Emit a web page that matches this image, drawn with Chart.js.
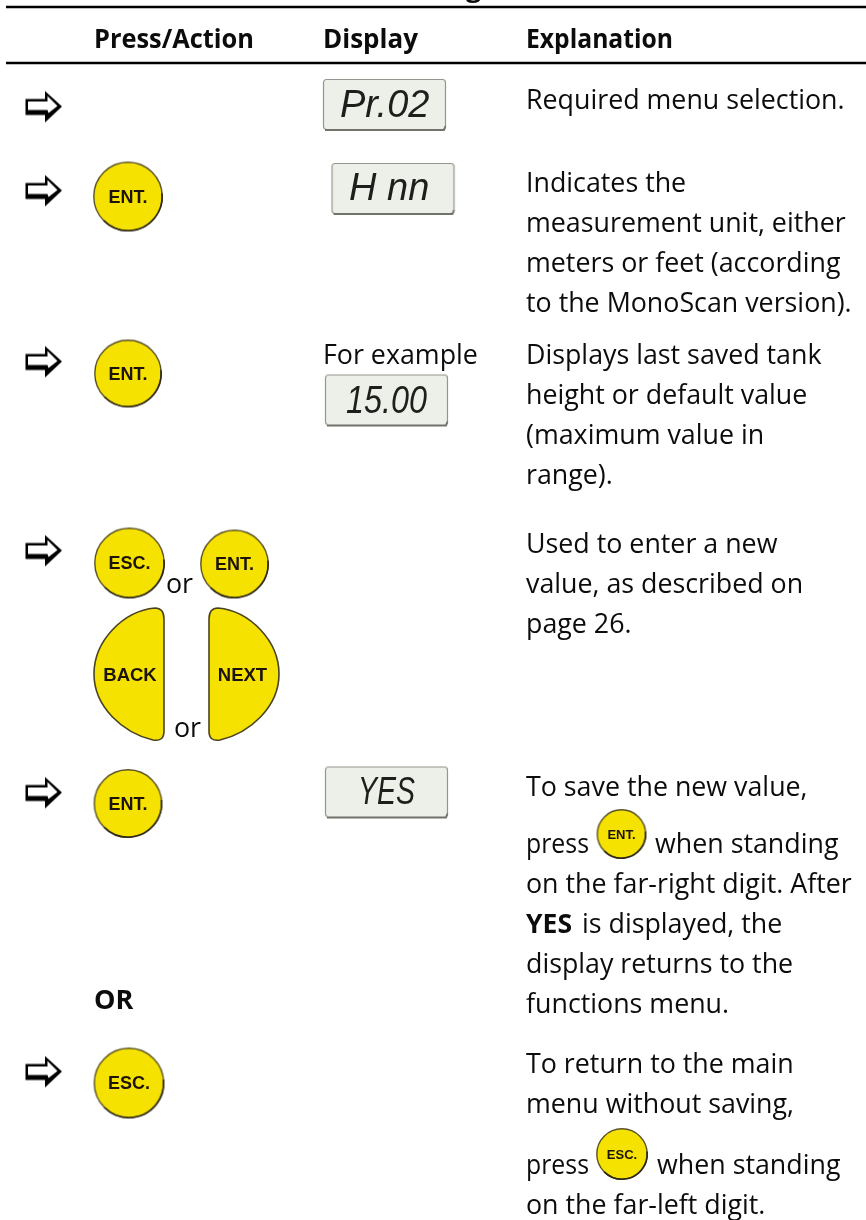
<!DOCTYPE html><html><head><meta charset="utf-8"><style>html,body{margin:0;padding:0;background:#fff}canvas{display:block}</style><script src="https://cdn.jsdelivr.net/npm/chart.js@4"></script></head><body><div style="width:866px;height:1220px;position:relative"><canvas id="c"></canvas></div><script>
// ---- table content (page-pixel value scale) ----
const ruleYs=[7,63];
const ruleX=[6,866];
const arrowX=[44,44,44,44,44,44];
const arrowY=[106.5,190.5,361.5,550.5,792.5,1071.5];
const roundKinds=['ENT.','ENT.','ESC.','ENT.','ENT.','ESC.','ENT.','ESC.'];
const roundX=[128,128,129.5,234.5,128,129,621.5,622];
const roundY=[196.5,373.5,563,564,803.5,1083,834,1154];
const roundD=[70,68,71,69,69,71,50,52];
const halfKinds=['BACK','NEXT'];
const halfX=[129,244];
const halfY=[674,674];
const lcdTexts=['Pr.02','H nn','15.00','YES'];
const lcdX=[384.5,393,386.5,386.5];
const lcdY=[105,189,400.5,792.5];
const lcdTextX=[340,349,346,358];
const lcdBase=[117,200,413,804];
const lcdTextW=[91,82,81,57];
const titleFragment='g';
const titleX=466;
const titleBase=-3.5;
const headerTexts=['Press/Action','Display','Explanation'];
const headerX=[94,323,526];
const headerW=[160,95,147];
const headerBase=[48,48,48];
const boldTexts=['OR','YES'];
const boldX=[94,526];
const boldBase=[1009,933];
const bodyTexts=['For example','or','or','Required menu selection.','Indicates the','measurement unit, either','meters or feet (according','to the MonoScan version).','Displays last saved tank','height or default value','(maximum value in','range).','Used to enter a new','value, as described on','page 26.','To save the new value,','when standing','on the far-right digit. After','is displayed, the','display returns to the','functions menu.','To return to the main','menu without saving,','when standing','on the far-left digit.'];
const bodyX=[323,166,174,526,526,526,526,526,526,526,526,526,526,526,526,526,655,526,582,526,526,526,526,657,526];
const bodyBase=[364,593,737,109,192,232,272,312,364,404,444,484,553,593,633,796,853,893,933,973,1013,1073,1113,1174,1214];
const pressText='press';
const pressX=[526,526];
const pressBase=[853,1174];

// ---- mark artwork used as point styles ----
function mk(w,h,draw){const c=document.createElement('canvas');c.width=w;c.height=h;draw(c.getContext('2d'),w,h);return c;}
const arrowImg=mk(40,34,(g)=>{
  const p=[[1.5,9.5],[21,9.5],[21,1.5],[38,17],[21,33],[21,25.5],[1.5,25.5]];
  const path=(pts)=>{g.beginPath();pts.forEach((q,i)=>i?g.lineTo(q[0],q[1]):g.moveTo(q[0],q[1]));g.closePath();};
  g.fillStyle='#000';path(p);g.fill();
  g.fillStyle='#fff';path([[4,12],[23.5,12],[23.5,6.5],[33.5,16.5],[24.5,23.5],[23.5,20.5],[4,20.5]]);g.fill();
});
function roundImg(d){const s=Math.ceil(d)+4;return mk(s,s,(g)=>{
  const c=s/2,r=d/2-.8;
  g.fillStyle='#f6e200';g.beginPath();g.arc(c,c,r,0,Math.PI*2);g.fill();
  g.strokeStyle='#5a5226';g.lineWidth=1.4;g.stroke();
  g.strokeStyle='#2c2614';g.lineWidth=1.6;g.beginPath();g.arc(c,c,r,-.1,Math.PI*.75);g.stroke();
});}
function halfImg(flip){return mk(76,138,(g)=>{
  if(flip){g.translate(76,0);g.scale(-1,1);}
  g.translate(2,2);
  g.beginPath();g.moveTo(62,1);g.bezierCurveTo(30,4,1,34,1,67);g.bezierCurveTo(1,100,30,126,60,133);
  g.quadraticCurveTo(71,135,71,124);g.lineTo(71,12);g.quadraticCurveTo(71,1,62,1);g.closePath();
  g.fillStyle='#f6e200';g.fill();g.strokeStyle='#4a4320';g.lineWidth=1.6;g.stroke();
});}
const lcdImg=mk(125,54,(g)=>{
  g.fillStyle='#edf0e8';g.strokeStyle='#92968c';g.lineWidth=1.2;
  g.beginPath();g.roundRect(1.5,1.5,122,50,3);g.fill();g.stroke();
  g.strokeStyle='#6f736a';g.lineWidth=1.8;g.beginPath();g.moveTo(3,52);g.lineTo(122,52);g.lineTo(123.5,48);g.stroke();
});
const roundImgs=roundD.map(roundImg);
const halfImgs=halfKinds.map((k,i)=>halfImg(i===1));

// ---- real text layer, placed through the chart's own scales ----
const FACE='"Open Sans"';
const textPlugin={id:'tableText',afterDatasetsDraw(ch){
  const g=ch.ctx,X=ch.scales.x,Y=ch.scales.y;
  const put=(t,x,y,w)=>{const px=X.getPixelForValue(x),py=Y.getPixelForValue(y);w?g.fillText(t,px,py,w):g.fillText(t,px,py);};
  g.save();g.textBaseline='alphabetic';g.textAlign='left';g.fillStyle='#0c0c0c';
  g.fontKerning='normal';
  g.font='400 26.8px '+FACE;bodyTexts.forEach((t,i)=>put(t,bodyX[i],bodyBase[i]));
  pressX.forEach((x,i)=>put(pressText,x,pressBase[i],63));
  g.font='700 27px '+FACE;headerTexts.forEach((t,i)=>put(t,headerX[i],headerBase[i],headerW[i]));
  put(boldTexts[0],boldX[0],boldBase[0],42);put(boldTexts[1],boldX[1],boldBase[1],46);
  put(titleFragment,titleX,titleBase);
  g.textAlign='center';g.fillStyle='#1c1408';
  roundKinds.forEach((t,i)=>{const sm=roundD[i]<60;g.font='700 '+(sm?13:18)+'px "Liberation Sans"';put(t,roundX[i],roundY[i]+(sm?4.5:6.4));});
  g.font='700 18.5px "Liberation Sans"';
  halfKinds.forEach((t,i)=>put(t,halfX[i]+(i?-1.5:1),halfY[i]+6.5,i?50:54));
  g.textAlign='left';g.fillStyle='#1d1f1c';g.font='italic 400 38px "Liberation Sans"';
  lcdTexts.forEach((t,i)=>put(t,lcdTextX[i],lcdBase[i],lcdTextW[i]));
  g.restore();
}};

const rules=ruleYs.map(y=>({type:'line',data:ruleX.map(x=>({x,y})),borderColor:'#000',borderWidth:2.6,pointRadius:0,clip:false}));
new Chart(document.getElementById('c'),{type:'scatter',data:{datasets:[
  ...rules,
  {data:lcdX.map((x,i)=>({x,y:lcdY[i]})),pointStyle:lcdImg,pointRadius:20,clip:false},
  {data:arrowX.map((x,i)=>({x,y:arrowY[i]})),pointStyle:arrowImg,pointRadius:20,clip:false},
  {data:roundX.map((x,i)=>({x,y:roundY[i]})),pointStyle:(c)=>roundImgs[c.dataIndex],pointRadius:20,clip:false},
  {data:halfX.map((x,i)=>({x,y:halfY[i]})),pointStyle:(c)=>halfImgs[c.dataIndex],pointRadius:20,clip:false}
]},options:{responsive:true,maintainAspectRatio:false,animation:false,events:[],
  layout:{padding:0,autoPadding:false},plugins:{legend:{display:false},tooltip:{enabled:false}},
  scales:{x:{display:false,min:0,max:866},y:{display:false,min:0,max:1220,reverse:true}}},
  plugins:[textPlugin]});
</script></body></html>
